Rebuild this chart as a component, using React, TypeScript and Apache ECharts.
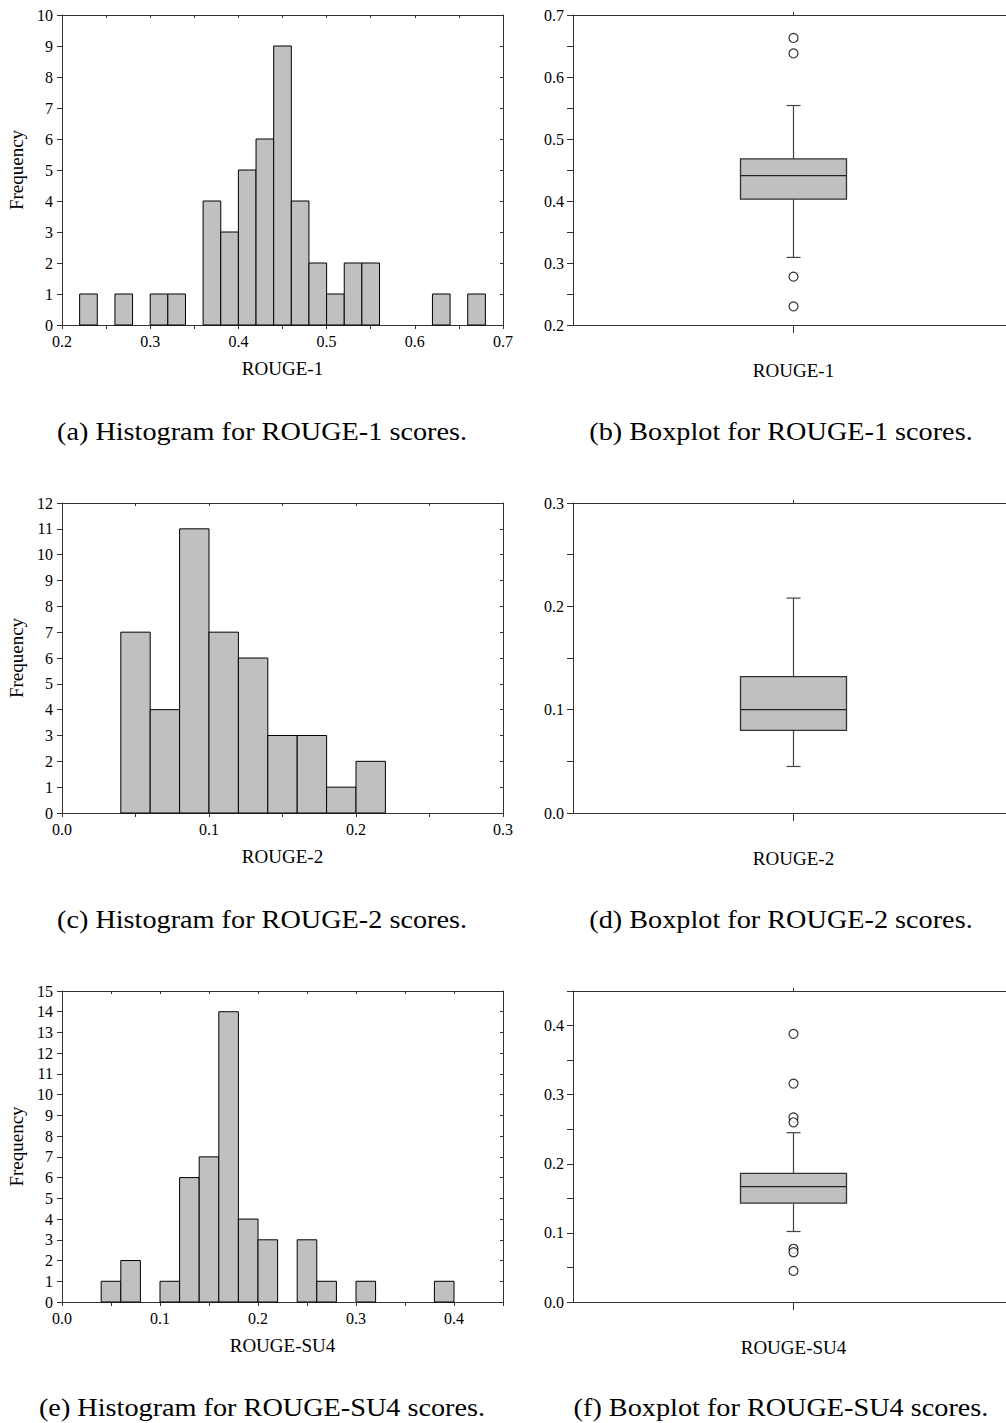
import React, { useEffect, useRef } from "react";
import * as echarts from "echarts";

// ---------- data ----------
const BIN_WIDTH = 0.02;

const rouge1BinStarts = [0.22, 0.24, 0.26, 0.28, 0.30, 0.32, 0.34, 0.36, 0.38, 0.40, 0.42, 0.44, 0.46, 0.48, 0.50, 0.52, 0.54, 0.56, 0.58, 0.60, 0.62, 0.64, 0.66];
const rouge1Counts = [1, 0, 1, 0, 1, 1, 0, 4, 3, 5, 6, 9, 4, 2, 1, 2, 2, 0, 0, 0, 1, 0, 1];

const rouge2BinStarts = [0.04, 0.06, 0.08, 0.10, 0.12, 0.14, 0.16, 0.18, 0.20];
const rouge2Counts = [7, 4, 11, 7, 6, 3, 3, 1, 2];

const su4BinStarts = [0.04, 0.06, 0.08, 0.10, 0.12, 0.14, 0.16, 0.18, 0.20, 0.22, 0.24, 0.26, 0.28, 0.30, 0.32, 0.34, 0.36, 0.38];
const su4Counts = [1, 2, 0, 1, 6, 7, 14, 4, 3, 0, 3, 1, 0, 1, 0, 0, 0, 1];

// [lower whisker, Q1, median, Q3, upper whisker]
const rouge1Box = [0.309, 0.403, 0.441, 0.468, 0.554];
const rouge1Outliers = [0.663, 0.638, 0.278, 0.230];
const rouge2Box = [0.045, 0.080, 0.100, 0.132, 0.208];
const rouge2Outliers: number[] = [];
const su4Box = [0.102, 0.143, 0.167, 0.186, 0.245];
const su4Outliers = [0.388, 0.316, 0.267, 0.260, 0.077, 0.072, 0.045];

const metricNames = ["ROUGE-1", "ROUGE-2", "ROUGE-SU4"];
const histXRanges = [[0.2, 0.7], [0.0, 0.3], [0.0, 0.45]];
const histYMax = [10, 12, 15];
const boxYRanges = [[0.2, 0.7], [0.0, 0.3], [0.0, 0.45]];
const captions = [
  ["(a) Histogram for ROUGE-1 scores.", "(b) Boxplot for ROUGE-1 scores."],
  ["(c) Histogram for ROUGE-2 scores.", "(d) Boxplot for ROUGE-2 scores."],
  ["(e) Histogram for ROUGE-SU4 scores.", "(f) Boxplot for ROUGE-SU4 scores."],
];

// ---------- layout / style ----------
const FONT = "Liberation Serif";
const AXIS_COLOR = "#333";
const FILL = "#c0c0c0";
const rowTops = [15, 503, 991];
const rowHeights = [310, 310, 311];
const captionY = [432, 920, 1408];
const captionX = [262, 781];

function tenthLabel(v: number) {
  const t = v * 10;
  return Math.abs(t - Math.round(t)) < 1e-6 ? v.toFixed(1) : "";
}

function buildOption() {
  const hists = [
    [rouge1BinStarts, rouge1Counts],
    [rouge2BinStarts, rouge2Counts],
    [su4BinStarts, su4Counts],
  ];
  const boxes = [
    [rouge1Box, rouge1Outliers],
    [rouge2Box, rouge2Outliers],
    [su4Box, su4Outliers],
  ];
  const grid: any[] = [];
  const xAxis: any[] = [];
  const yAxis: any[] = [];
  const series: any[] = [];
  const graphic: any[] = [];

  const lineStyle = { color: AXIS_COLOR, width: 1 };
  const labelStyle = { fontFamily: FONT, fontSize: 16, color: "#000" };

  for (let r = 0; r < 3; r++) {
    const gH = grid.length;
    grid.push({ left: 62, top: rowTops[r], width: 441, height: rowHeights[r] });
    const gB = grid.length;
    grid.push({ left: 573, top: rowTops[r], width: 441, height: rowHeights[r] });

    // ----- histogram -----
    const [xmin, xmax] = histXRanges[r];
    const hx = xAxis.length;
    xAxis.push({
      gridIndex: gH, type: "value", min: xmin, max: xmax, interval: 0.05,
      name: metricNames[r], nameLocation: "middle", nameGap: 34,
      nameTextStyle: { fontFamily: FONT, fontSize: 19, color: "#000" },
      axisLine: { show: true, onZero: false, lineStyle },
      axisTick: { show: true, length: 4, lineStyle },
      axisLabel: { ...labelStyle, margin: 8, formatter: tenthLabel },
      splitLine: { show: false },
    });
    xAxis.push({
      gridIndex: gH, type: "value", min: xmin, max: xmax, interval: 0.05, position: "top",
      axisLine: { show: true, onZero: false, lineStyle },
      axisTick: { show: true, inside: true, length: 3, lineStyle },
      axisLabel: { show: false }, splitLine: { show: false },
    });
    const hy = yAxis.length;
    yAxis.push({
      gridIndex: gH, type: "value", min: 0, max: histYMax[r], interval: 1,
      name: "Frequency", nameLocation: "middle", nameGap: 36, nameRotate: 90,
      nameTextStyle: { fontFamily: FONT, fontSize: 19, color: "#000" },
      axisLine: { show: true, onZero: false, lineStyle },
      axisTick: { show: true, length: 5, lineStyle },
      axisLabel: { ...labelStyle, margin: 9 },
      splitLine: { show: false },
    });
    yAxis.push({
      gridIndex: gH, type: "value", min: 0, max: histYMax[r], interval: 1, position: "right",
      axisLine: { show: true, onZero: false, lineStyle },
      axisTick: { show: true, inside: true, length: 3, lineStyle },
      axisLabel: { show: false }, splitLine: { show: false },
    });
    const [starts, counts] = hists[r];
    series.push({
      type: "custom", xAxisIndex: hx, yAxisIndex: hy,
      encode: { x: [0, 1], y: 2 },
      data: starts.map((s, i) => [s, s + BIN_WIDTH, counts[i]]).filter((d) => d[2] > 0),
      renderItem: (_p: any, api: any) => {
        const p0 = api.coord([api.value(0), 0]);
        const p1 = api.coord([api.value(1), api.value(2)]);
        return {
          type: "rect",
          shape: { x: p0[0], y: p1[1], width: p1[0] - p0[0], height: p0[1] - p1[1] },
          style: { fill: FILL, stroke: "#000", lineWidth: 1 },
        };
      },
      silent: true,
    });

    // ----- boxplot -----
    const [bmin, bmax] = boxYRanges[r];
    const bx = xAxis.length;
    xAxis.push({
      gridIndex: gB, type: "category", data: [metricNames[r]], boundaryGap: true,
      axisLine: { show: true, onZero: false, lineStyle },
      axisTick: { show: true, alignWithLabel: true, length: 8, lineStyle },
      axisLabel: { fontFamily: FONT, fontSize: 19, color: "#000", margin: 36 },
      splitLine: { show: false },
    });
    xAxis.push({
      gridIndex: gB, type: "category", data: [metricNames[r]], boundaryGap: true, position: "top",
      axisLine: { show: true, onZero: false, lineStyle },
      axisTick: { show: true, alignWithLabel: true, length: 3, lineStyle },
      axisLabel: { show: false }, splitLine: { show: false },
    });
    const by = yAxis.length;
    yAxis.push({
      gridIndex: gB, type: "value", min: bmin, max: bmax, interval: 0.05,
      axisLine: { show: true, onZero: false, lineStyle },
      axisTick: { show: true, length: 6, lineStyle },
      axisLabel: { ...labelStyle, margin: 9, formatter: tenthLabel },
      splitLine: { show: false },
    });
    const [stats, outliers] = boxes[r];
    series.push({
      type: "custom", xAxisIndex: bx, yAxisIndex: by,
      encode: { x: 0, y: [1, 2, 3, 4, 5] },
      data: [[0, ...stats]],
      renderItem: (_p: any, api: any) => {
        const lo = api.coord([0, api.value(1)]);
        const q1 = api.coord([0, api.value(2)]);
        const med = api.coord([0, api.value(3)]);
        const q3 = api.coord([0, api.value(4)]);
        const hi = api.coord([0, api.value(5)]);
        const cx = med[0];
        const hw = 53;
        const cap = 7;
        const ws = { stroke: "#444", lineWidth: 1.2 };
        return {
          type: "group",
          children: [
            { type: "line", shape: { x1: cx, y1: q3[1], x2: cx, y2: hi[1] }, style: ws },
            { type: "line", shape: { x1: cx - cap, y1: hi[1], x2: cx + cap, y2: hi[1] }, style: ws },
            { type: "line", shape: { x1: cx, y1: q1[1], x2: cx, y2: lo[1] }, style: ws },
            { type: "line", shape: { x1: cx - cap, y1: lo[1], x2: cx + cap, y2: lo[1] }, style: ws },
            { type: "rect", shape: { x: cx - hw, y: q3[1], width: 2 * hw, height: q1[1] - q3[1] }, style: { fill: FILL, stroke: "#333", lineWidth: 1.3 } },
            { type: "line", shape: { x1: cx - hw, y1: med[1], x2: cx + hw, y2: med[1] }, style: { stroke: "#222", lineWidth: 1.2 } },
          ],
        };
      },
      silent: true,
    });
    if (outliers.length) {
      series.push({
        type: "scatter", xAxisIndex: bx, yAxisIndex: by,
        data: outliers.map((v) => [0, v]),
        symbol: "circle", symbolSize: 9,
        itemStyle: { color: "#fff", borderColor: "#000", borderWidth: 1.2 },
        silent: true,
      });
    }

    // captions
    for (let c = 0; c < 2; c++) {
      graphic.push({
        type: "text", x: captionX[c], y: captionY[r], scaleX: 1.13,
        style: {
          text: captions[r][c], fontFamily: FONT, fontSize: 25, fill: "#000",
          align: "center", verticalAlign: "middle",
        },
      });
    }
  }

  return {
    animation: false,
    backgroundColor: "#fff",
    textStyle: { fontFamily: FONT, color: "#000" },
    grid, xAxis, yAxis, series, graphic,
  };
}

export default function App() {
  const ref = useRef<HTMLDivElement>(null);
  useEffect(() => {
    const chart = echarts.init(ref.current!, null, { renderer: "svg" });
    chart.setOption(buildOption() as any);
    return () => chart.dispose();
  }, []);
  return (
    <div
      style={{ position: "absolute", left: 0, top: 0, width: 1006, height: 1423, overflow: "hidden", background: "#fff" }}
    >
      <div ref={ref} style={{ width: 1016, height: 1423 }} />
    </div>
  );
}
